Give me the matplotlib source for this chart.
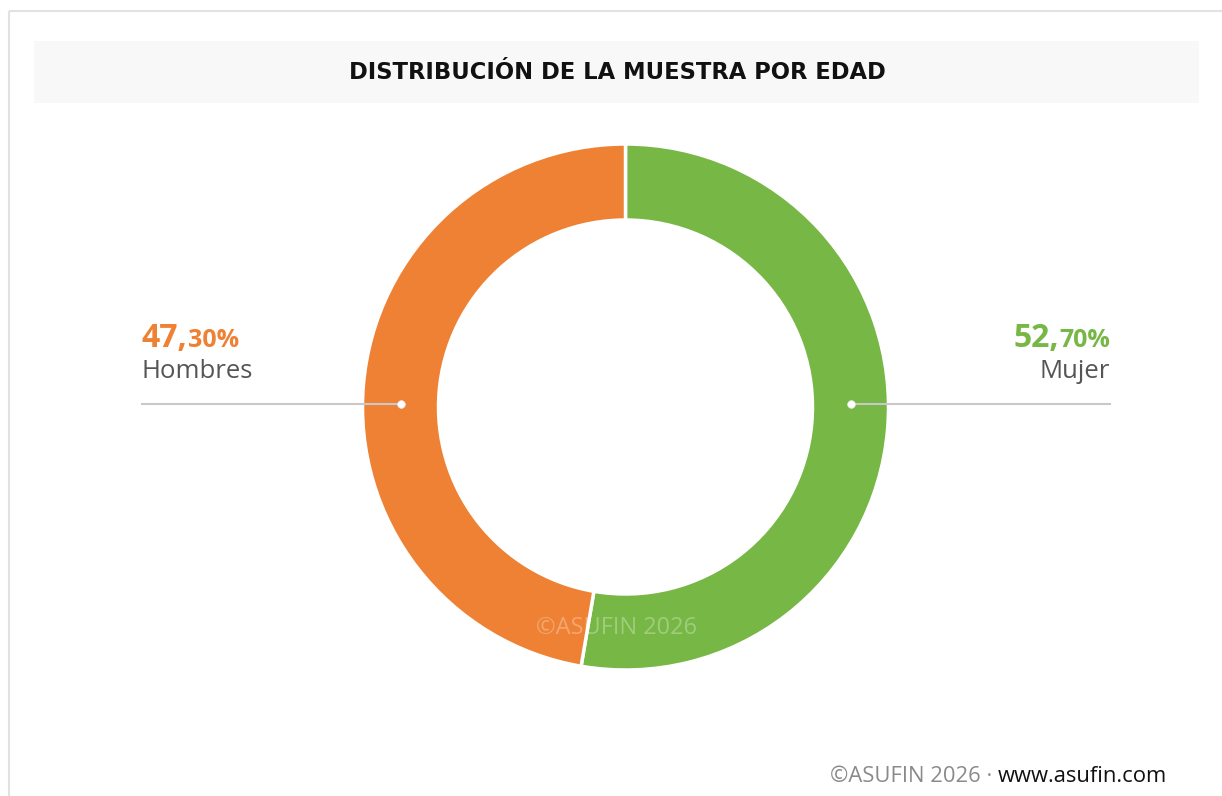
import matplotlib
matplotlib.use('Agg')
import matplotlib.pyplot as plt
from matplotlib.patches import Rectangle

plt.rcParams['font.family'] = ['Open Sans', 'DejaVu Sans']

# ------------------------------------
#              - Data -
# ------------------------------------
title = 'DISTRIBUCIÓN DE LA MUESTRA POR EDAD'
categories = ['Mujer', 'Hombres']
values = [52.70, 47.30]
colors = ['#77b745', '#ee8133']
watermark = '©ASUFIN 2026'
footer_grey = '©ASUFIN 2026 · '
footer_url = 'www.asufin.com'

W, H = 1222, 796
fig = plt.figure(figsize=(W / 100, H / 100), dpi=100)
fig.patch.set_facecolor('white')

# --- Donut (drawn first so the overlay sits on top) ---
cx, cy, r_out, r_in = 625.5, 407, 263, 187
pax = fig.add_axes([(cx - r_out) / W, (H - cy - r_out) / H, 2 * r_out / W, 2 * r_out / H])
pax.pie(values, colors=colors, startangle=90, counterclock=False, radius=1,
        wedgeprops=dict(width=(r_out - r_in) / r_out, edgecolor='white', linewidth=2.5))
pax.set_xlim(-1, 1)
pax.set_ylim(-1, 1)
pax.axis('off')

# pixel-based overlay axes over the whole figure
ax = fig.add_axes([0, 0, 1, 1])
ax.set_xlim(0, W)
ax.set_ylim(H, 0)
ax.axis('off')
ax.patch.set_alpha(0)

# card border (top and left) and title bar
ax.plot([8.5, W], [10.5, 10.5], color='#e2e2e2', lw=1.5, solid_capstyle='butt')
ax.plot([8.5, 8.5], [10.5, H], color='#e2e2e2', lw=1.5, solid_capstyle='butt')
ax.add_patch(Rectangle((34, 41), 1165, 62, facecolor='#f8f8f8', edgecolor='none'))
ax.text(617, 72.5, title, ha='center', va='center', fontsize=16.3,
        fontweight='bold', color='#111111', family='DejaVu Sans')

# watermark
ax.text(617, 628, watermark, ha='center', va='center', fontsize=17,
        color='white', alpha=0.3, zorder=5)

# --- Labels with leader lines ---
r_mid = (r_out + r_in) / 2
line_y = 404
label_x = {'Mujer': 1110, 'Hombres': 142}


def split_pct(v):
    s = f'{v:.2f}'.replace('.', ',')
    big, small = s.split(',')
    return big + ',', small + '%'


for cat, val, col in zip(categories, values, colors):
    big, small = split_pct(val)
    lx = label_x[cat]
    right = lx > cx
    dot_x = cx + r_mid if right else cx - r_mid
    ax.plot([dot_x, lx], [line_y, line_y], color='#c8c8c8', lw=1.5, zorder=6)
    ax.plot(dot_x, line_y, 'o', ms=5.5, mfc='white', mec='#eeeeee', mew=0.5, zorder=7)
    if right:
        t_small = ax.text(lx, 347, small, ha='right', va='baseline', fontsize=18,
                          fontweight='bold', color=col)
        ax.annotate(big, xy=(0, 347), xycoords=(t_small, 'data'), ha='right',
                    va='baseline', fontsize=23, fontweight='bold', color=col)
        ax.text(lx, 372, cat, ha='right', va='center', fontsize=18.5, color='#555555')
    else:
        t_big = ax.text(lx, 347, big, ha='left', va='baseline', fontsize=23,
                        fontweight='bold', color=col)
        ax.annotate(small, xy=(1, 347), xycoords=(t_big, 'data'), ha='left',
                    va='baseline', fontsize=18, fontweight='bold', color=col)
        ax.text(lx, 372, cat, ha='left', va='center', fontsize=18.5, color='#555555')

# --- Footer ---
t_url = ax.text(1167, 777, footer_url, ha='right', va='center', fontsize=15.8,
                color='#111111')
ax.annotate(footer_grey, xy=(0, 777), xycoords=(t_url, 'data'), ha='right',
            va='center', fontsize=15.8, color='#8a8a8a')

fig.savefig('out.png', dpi=100, facecolor='white')
